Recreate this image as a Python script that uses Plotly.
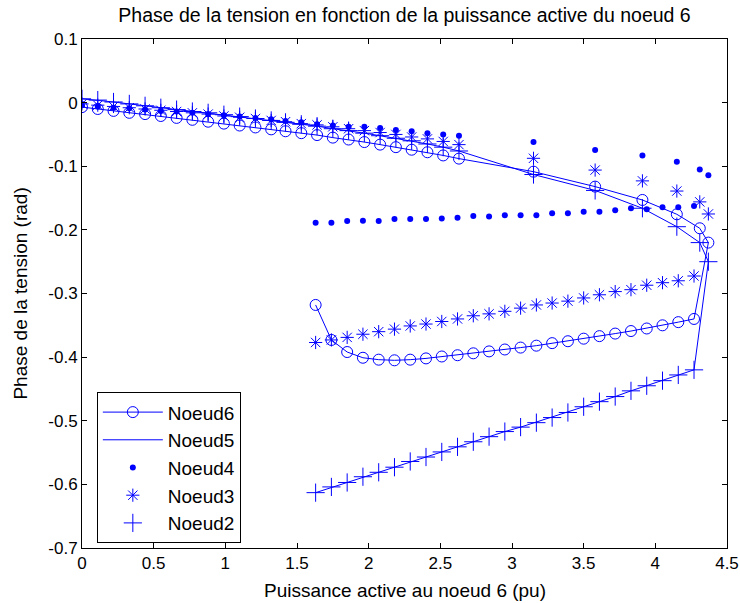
import plotly.graph_objects as go

# Active power at node 6 (pu): upper branch, nose, then lower branch
puissance = [0.00, 0.11, 0.22, 0.33, 0.44, 0.55, 0.66, 0.77, 0.88, 0.99,
             1.10, 1.21, 1.32, 1.42, 1.53, 1.64, 1.75, 1.86, 1.97, 2.08,
             2.19, 2.30, 2.41, 2.52, 2.63,
             3.15, 3.58, 3.91, 4.15, 4.31, 4.37,
             4.27, 4.16, 4.05, 3.94, 3.83, 3.72, 3.61, 3.50, 3.39, 3.28,
             3.17, 3.06, 2.95, 2.84, 2.73, 2.62, 2.51, 2.40, 2.29, 2.18,
             2.07, 1.96, 1.85, 1.74, 1.63]

noeud6 = [-0.007, -0.010, -0.013, -0.016, -0.018, -0.021, -0.024, -0.027, -0.030, -0.033,
          -0.036, -0.039, -0.042, -0.045, -0.048, -0.051, -0.055, -0.058, -0.062, -0.066,
          -0.070, -0.074, -0.078, -0.083, -0.088,
          -0.1085, -0.132, -0.153, -0.1755, -0.1975, -0.220,
          -0.340, -0.345, -0.350, -0.355, -0.359, -0.363, -0.367, -0.371, -0.375, -0.378,
          -0.382, -0.385, -0.388, -0.391, -0.394, -0.397, -0.399, -0.402, -0.404, -0.405,
          -0.404, -0.401, -0.392, -0.373, -0.318]

noeud2 = [0.006, 0.004, 0.001, -0.002, -0.005, -0.008, -0.011, -0.014, -0.016, -0.019,
          -0.022, -0.025, -0.028, -0.031, -0.034, -0.037, -0.041, -0.044, -0.048, -0.052,
          -0.056, -0.060, -0.065, -0.070, -0.076,
          -0.113, -0.138, -0.166, -0.195, -0.220, -0.250,
          -0.420, -0.428, -0.437, -0.445, -0.453, -0.462, -0.470, -0.478, -0.487, -0.495,
          -0.503, -0.510, -0.517, -0.525, -0.533, -0.541, -0.549, -0.557, -0.564, -0.573,
          -0.581, -0.588, -0.597, -0.604, -0.613]

noeud5 = list(noeud2)

noeud4 = [-0.004, -0.006, -0.008, -0.009, -0.011, -0.013, -0.014, -0.016, -0.018, -0.020,
          -0.022, -0.024, -0.026, -0.029, -0.031, -0.034, -0.036, -0.038, -0.038, -0.040,
          -0.043, -0.045, -0.048, -0.050, -0.052,
          -0.062, -0.0745, -0.083, -0.093, -0.105, -0.114,
          -0.1625, -0.1646, -0.1646, -0.1677, -0.166, -0.169, -0.1714, -0.1714, -0.174, -0.174,
          -0.177, -0.177, -0.177, -0.179, -0.178, -0.181, -0.182, -0.183, -0.183, -0.183,
          -0.186, -0.1855, -0.186, -0.1887, -0.1887]

noeud3 = [-0.002, -0.004, -0.006, -0.008, -0.010, -0.012, -0.014, -0.016, -0.018, -0.021,
          -0.023, -0.025, -0.028, -0.030, -0.033, -0.035, -0.038, -0.041, -0.044, -0.047,
          -0.050, -0.054, -0.057, -0.061, -0.066,
          -0.0875, -0.106, -0.123, -0.139, -0.156, -0.175,
          -0.2725, -0.280, -0.283, -0.287, -0.294, -0.297, -0.302, -0.307, -0.312, -0.315,
          -0.318, -0.323, -0.328, -0.332, -0.335, -0.340, -0.344, -0.348, -0.351, -0.356,
          -0.360, -0.364, -0.369, -0.373, -0.377]

x_ticks = [0, 0.5, 1, 1.5, 2, 2.5, 3, 3.5, 4, 4.5]
x_tick_labels = ["0", "0.5", "1", "1.5", "2", "2.5", "3", "3.5", "4", "4.5"]
y_ticks = [0.1, 0, -0.1, -0.2, -0.3, -0.4, -0.5, -0.6, -0.7]
y_tick_labels = ["0.1", "0", "-0.1", "-0.2", "-0.3", "-0.4", "-0.5", "-0.6", "-0.7"]

BLUE = "#0000FF"
FONT = "Liberation Sans, Arial, sans-serif"

fig = go.Figure()
fig.add_trace(go.Scatter(x=puissance, y=noeud6, name="Noeud6", mode="lines+markers",
                         line=dict(color=BLUE, width=1),
                         marker=dict(symbol="circle-open", size=11, color=BLUE, line=dict(width=1)),
                         legendgroup="g6"))
fig.add_trace(go.Scatter(x=puissance, y=noeud5, name="Noeud5", mode="lines",
                         line=dict(color=BLUE, width=1), legendgroup="g5"))
fig.add_trace(go.Scatter(x=puissance, y=noeud4, name="Noeud4", mode="markers",
                         marker=dict(symbol="circle", size=6, color=BLUE),
                         legendgroup="g4"))
fig.add_trace(go.Scatter(x=puissance, y=noeud3, name="Noeud3", mode="markers",
                         marker=dict(symbol="asterisk-open", size=11, color=BLUE, line=dict(width=1, color=BLUE)),
                         legendgroup="g3"))
fig.add_trace(go.Scatter(x=puissance, y=noeud2, name="Noeud2", mode="markers",
                         marker=dict(symbol="cross-thin-open", size=13, color=BLUE, line=dict(width=1, color=BLUE)),
                         legendgroup="g2"))

axis_common = dict(showgrid=False, zeroline=False, showline=True, linecolor="black", linewidth=1,
                   mirror="ticks", ticks="inside", ticklen=5, tickcolor="black", automargin=False,
                   tickfont=dict(family=FONT, size=17, color="black"))

fig.update_layout(
    width=740, height=603,
    margin=dict(l=82, r=13, t=39, b=55),
    paper_bgcolor="white", plot_bgcolor="white",
    font=dict(family=FONT, size=17, color="black"),
    title=dict(text="Phase de la tension en fonction de la puissance active du noeud 6",
               x=0.5, xref="paper", xanchor="center", y=0.975, yref="container", yanchor="middle",
               font=dict(family=FONT, size=19.5, color="black")),
    xaxis=dict(range=[0, 4.5], tickvals=x_ticks, ticktext=x_tick_labels, **axis_common),
    yaxis=dict(range=[-0.7, 0.1], tickvals=y_ticks, ticktext=y_tick_labels, **axis_common),
    legend=dict(x=0.023, y=0.306, xanchor="left", yanchor="top",
                bgcolor="white", bordercolor="black", borderwidth=1,
                tracegroupgap=0, itemwidth=60, font=dict(family=FONT, size=19, color="black"),
                traceorder="normal"),
    showlegend=True,
    annotations=[
        dict(text="Puissance active au noeud 6 (pu)", xref="paper", yref="paper",
             x=0.5, y=-0.083, xanchor="center", yanchor="middle", showarrow=False,
             font=dict(family=FONT, size=19, color="black")),
        dict(text="Phase de la tension (rad)", xref="paper", yref="paper",
             x=-0.096, y=0.5, xanchor="center", yanchor="middle", showarrow=False, textangle=-90,
             font=dict(family=FONT, size=19, color="black")),
    ],
)

fig.write_html("out.html", config={"displayModeBar": False})

# remove the default page margin so the figure sits at the window origin
with open("out.html", "r", encoding="utf-8") as f:
    html = f.read()
html = html.replace("<head>", "<head><style>html,body{margin:0;padding:0;}</style>", 1)
with open("out.html", "w", encoding="utf-8") as f:
    f.write(html)
